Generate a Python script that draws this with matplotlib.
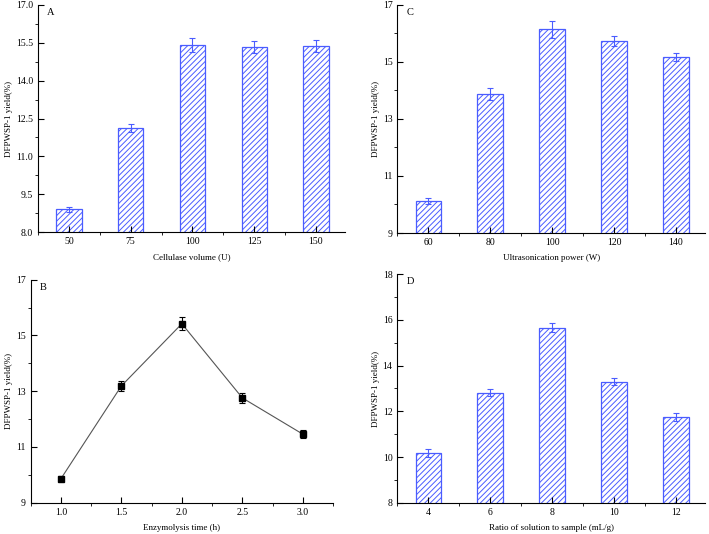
import numpy as np
import matplotlib
matplotlib.use("Agg")
import matplotlib.pyplot as plt
from matplotlib.ticker import AutoMinorLocator, MultipleLocator

plt.rcParams["font.family"] = ["Liberation Serif", "DejaVu Serif"]
plt.rcParams["hatch.linewidth"] = 0.7
plt.rcParams["hatch.color"] = "#4a5cff"

BLUE = "#4a5cff"
YLABEL = "DFPWSP-1 yield(%)"

# A: cellulase volume
cell_vol = ["50", "75", "100", "125", "150"]
cell_yield = [8.91, 12.12, 15.39, 15.33, 15.35]
cell_err = [0.10, 0.15, 0.28, 0.24, 0.24]

# C: ultrasonication power
power = ["60", "80", "100", "120", "140"]
power_yield = [10.12, 13.86, 16.14, 15.73, 15.16]
power_err = [0.12, 0.21, 0.29, 0.19, 0.15]

# B: enzymolysis time
time_h = [1.0, 1.5, 2.0, 2.5, 3.0]
time_yield = [9.86, 13.19, 15.42, 12.76, 11.46]
time_err = [0.08, 0.17, 0.23, 0.19, 0.14]

# D: ratio of solution to sample
ratio = ["4", "6", "8", "10", "12"]
ratio_yield = [10.17, 12.82, 15.66, 13.30, 11.76]
ratio_err = [0.17, 0.16, 0.19, 0.15, 0.19]

W, H = 709, 534
fig = plt.figure(figsize=(W / 100, H / 100), dpi=100)


def make_ax(l, r, t, b):
    return fig.add_axes([l / W, 1 - b / H, (r - l) / W, (b - t) / H])


def style(ax, label, ylim, ystep, fmt):
    for s in ["top", "right"]:
        ax.spines[s].set_visible(False)
    ax.set_ylim(*ylim)
    ax.set_yticks(np.arange(ylim[0], ylim[1] + 1e-6, ystep))
    ax.yaxis.set_minor_locator(AutoMinorLocator(2))
    ax.yaxis.set_major_formatter(plt.FormatStrFormatter(fmt))
    ax.tick_params(which="major", direction="in", length=4, width=0.8, labelsize=7)
    ax.tick_params(which="minor", direction="out", length=2.5, width=0.6)
    ax.set_ylabel(YLABEL, fontsize=6.5, labelpad=2)
    ax.text(0.03, 0.985, label, transform=ax.transAxes, fontsize=7.5, va="top", ha="left")


def bars(ax, cats, vals, errs, ylim, ystep, fmt, xlabel, label):
    x = np.arange(len(cats))
    ax.bar(x, vals, width=0.41, color="white", edgecolor=BLUE, hatch="//////", linewidth=0.9)
    ax.errorbar(x, vals, yerr=errs, fmt="none", ecolor=BLUE, elinewidth=0.8, capsize=2.5, capthick=0.8)
    ax.set_xlim(-0.5, len(cats) - 0.53)
    ax.set_xticks(x)
    ax.set_xticklabels(cats)
    ax.xaxis.set_minor_locator(MultipleLocator(0.5))
    ax.set_xlabel(xlabel, fontsize=6.5, labelpad=5)
    style(ax, label, ylim, ystep, fmt)


axA = make_ax(38, 345, 4.7, 232.3)
bars(axA, cell_vol, cell_yield, cell_err, (8.0, 17.0), 1.5, "%.1f", "Cellulase volume (U)", "A")

axC = make_ax(397.3, 705, 4.7, 233)
bars(axC, power, power_yield, power_err, (9, 17), 2, "%d", "Ultrasonication power (W)", "C")

axD = make_ax(397.3, 705, 274, 503)
bars(axD, ratio, ratio_yield, ratio_err, (8, 18), 2, "%d", "Ratio of solution to sample (mL/g)", "D")

axB = make_ax(30.7, 333, 279.7, 502.7)
axB.errorbar(time_h, time_yield, yerr=time_err, color="#555555", linewidth=0.8,
             marker="s", markersize=4.6, markerfacecolor="black", markeredgecolor="black",
             ecolor="black", elinewidth=0.8, capsize=2.2, capthick=0.8)
axB.set_xlim(0.75, 3.25)
axB.xaxis.set_major_locator(MultipleLocator(0.5))
axB.xaxis.set_minor_locator(MultipleLocator(0.25))
axB.xaxis.set_major_formatter(plt.FormatStrFormatter("%.1f"))
axB.set_xlabel("Enzymolysis time (h)", fontsize=6.5, labelpad=5)
style(axB, "B", (9, 17), 2, "%d")

fig.savefig("out.png", dpi=100)
